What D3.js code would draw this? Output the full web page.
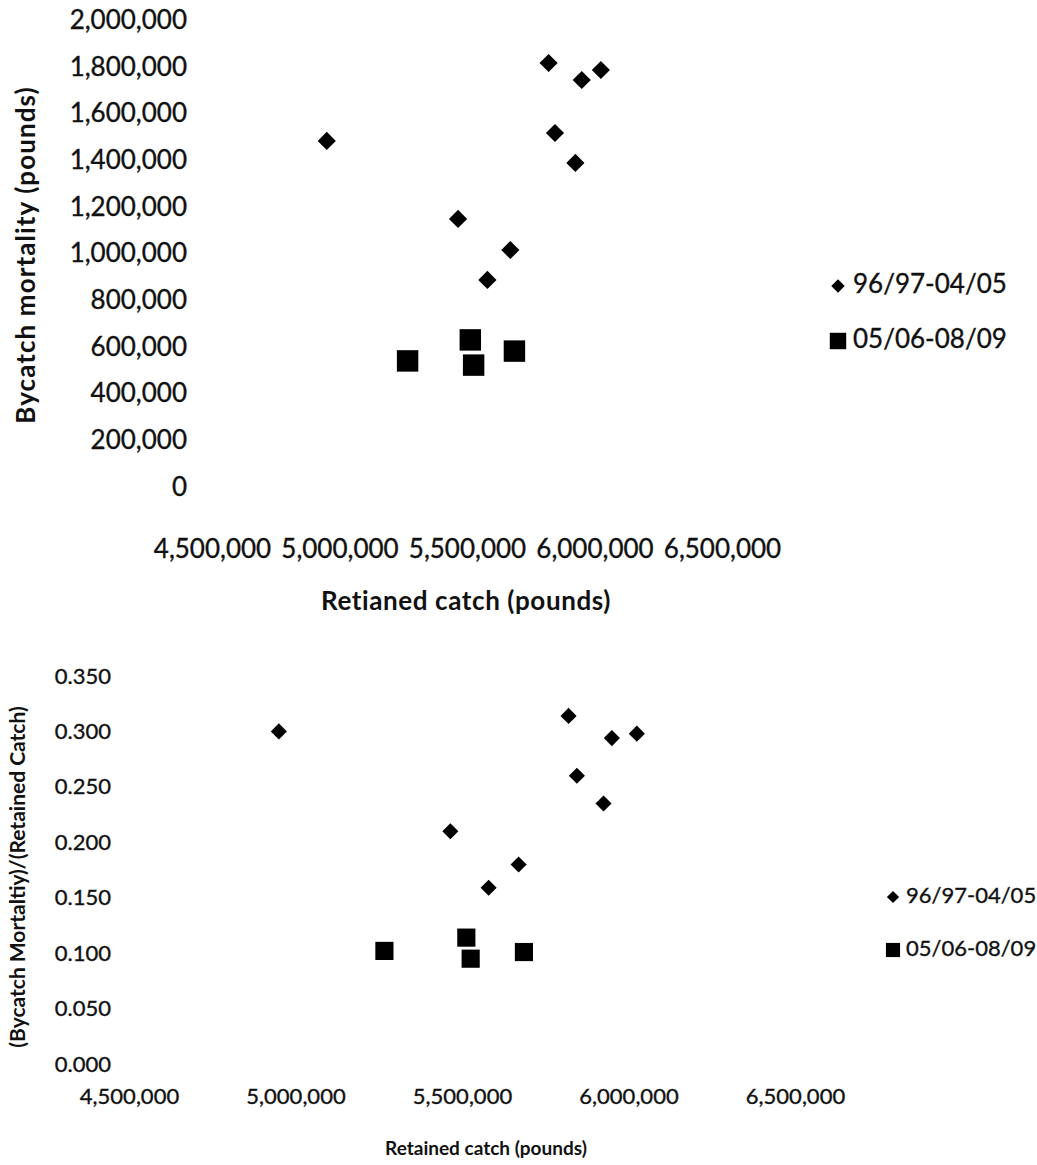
<!DOCTYPE html>
<html>
<head>
<meta charset="utf-8">
<script src="https://cdn.jsdelivr.net/npm/d3@7"></script>
<style>
  html, body { margin: 0; padding: 0; background: #fff; }
  svg { display: block; }
  text { font-family: Lato, "Open Sans", sans-serif; fill: #111; }
</style>
</head>
<body>
<svg id="fig" width="1037" height="1165"></svg>
<script>
// Seasons grouped into two periods
const periodNames = ["96/97-04/05", "05/06-08/09"];

// 96/97-04/05 seasons
const retainedEarly  = [4950000, 5465000, 5580000, 5670000, 5820000, 5845000, 5925000, 5950000, 6025000];
const mortalityEarly = [1482000, 1148000, 887000, 1015000, 1816000, 1516000, 1388000, 1743000, 1786000];
const rateEarly      = [0.300, 0.210, 0.159, 0.180, 0.314, 0.260, 0.235, 0.294, 0.298];

// 05/06-08/09 seasons
const retainedLate  = [5267000, 5513000, 5526000, 5686000];
const mortalityLate = [540000, 630000, 522000, 582000];
const rateLate      = [0.102, 0.114, 0.095, 0.101];

// Axis ticks
const retainedTicks  = [4500000, 5000000, 5500000, 6000000, 6500000];
const mortalityTicks = [0, 200000, 400000, 600000, 800000, 1000000, 1200000, 1400000, 1600000, 1800000, 2000000];
const rateTicks      = [0, 0.05, 0.10, 0.15, 0.20, 0.25, 0.30, 0.35];

const svg = d3.select("#fig");

// marker path generator: squares; diamonds are the same square turned 45 degrees
function squarePath(area) { return d3.symbol().type(d3.symbolSquare).size(area)(); }

function styleTicks(sel, size) {
  sel.selectAll("text")
    .style("font-size", size + "px")
    .style("font-family", "Lato, sans-serif")
    .attr("fill", "#111")
    .attr("stroke", "#111").attr("stroke-width", 0.35);
}

function drawPanel(cfg) {
  const g = svg.append("g");
  const x = d3.scaleLinear().domain([4500000, 6500000]).range(cfg.xRange);
  const y = d3.scaleLinear().domain(cfg.yDomain).range(cfg.yRange);

  // y axis (labels only, no line)
  const ya = g.append("g")
    .attr("transform", `translate(${cfg.xRange[0]},0)`)
    .call(d3.axisLeft(y).tickValues(cfg.yTicks).tickFormat(cfg.yFormat)
      .tickSize(0).tickPadding(cfg.yPad));
  ya.select(".domain").remove();
  styleTicks(ya, cfg.tickFont);

  // x axis (labels only, no line)
  const xa = g.append("g")
    .attr("transform", `translate(0,${cfg.yRange[0]})`)
    .call(d3.axisBottom(x).tickValues(retainedTicks).tickFormat(d3.format(","))
      .tickSize(0).tickPadding(cfg.xPad));
  xa.select(".domain").remove();
  styleTicks(xa, cfg.tickFont);

  // earlier period: diamonds
  g.append("g").selectAll("path")
    .data(d3.zip(retainedEarly, cfg.early))
    .join("path")
    .attr("d", squarePath(cfg.diamondArea))
    .attr("transform", d => `translate(${x(d[0])},${y(d[1])}) rotate(45)`)
    .attr("fill", "#000");

  // later period: squares
  g.append("g").selectAll("path")
    .data(d3.zip(retainedLate, cfg.late))
    .join("path")
    .attr("d", squarePath(cfg.squareArea))
    .attr("transform", d => `translate(${x(d[0])},${y(d[1])})`)
    .attr("fill", "#000");

  // axis titles
  g.append("text")
    .attr("transform", `translate(${cfg.yTitlePos[0]},${cfg.yTitlePos[1]}) rotate(-90)`)
    .attr("text-anchor", "middle").attr("dominant-baseline", "middle")
    .style("font-size", cfg.yTitleFont + "px").style("font-weight", 700)
    .style("letter-spacing", cfg.yTitleSpacing + "px")
    .text(cfg.yTitle);
  g.append("text")
    .attr("x", cfg.xTitlePos[0]).attr("y", cfg.xTitlePos[1])
    .attr("text-anchor", "middle").attr("dominant-baseline", "middle")
    .style("font-size", cfg.xTitleFont + "px").style("font-weight", 700)
    .style("letter-spacing", cfg.xTitleSpacing + "px")
    .text(cfg.xTitle);

  // legend
  const lg = g.append("g");
  periodNames.forEach((name, i) => {
    const ly = cfg.legendY[i];
    lg.append("path")
      .attr("d", squarePath(i === 0 ? cfg.legendDiamond : cfg.legendSquare))
      .attr("transform", `translate(${cfg.legendX},${ly})` + (i === 0 ? " rotate(45)" : ""))
      .attr("fill", "#000");
    lg.append("text")
      .attr("x", cfg.legendX + cfg.legendGap).attr("y", ly)
      .attr("dominant-baseline", "middle")
      .style("font-size", cfg.legendFont + "px")
      .attr("stroke", "#111").attr("stroke-width", 0.35)
      .text(name);
  });
}

// Panel 1: bycatch mortality against retained catch
drawPanel({
  xRange: [212, 722], yDomain: [0, 2000000], yRange: [487, 20],
  yTicks: mortalityTicks, yFormat: d3.format(","), yPad: 25, xPad: 53,
  tickFont: 26,
  early: mortalityEarly, late: mortalityLate,
  diamondArea: 165, squareArea: 460,
  yTitle: "Bycatch mortality (pounds)", yTitlePos: [28, 255], yTitleFont: 26, yTitleSpacing: 1.1,
  xTitle: "Retianed catch (pounds)", xTitlePos: [466, 603], xTitleFont: 26, xTitleSpacing: 0.6,
  legendX: 838, legendY: [286, 341], legendGap: 15, legendFont: 26,
  legendDiamond: 90, legendSquare: 270
});

// Panel 2: bycatch rate against retained catch
drawPanel({
  xRange: [129, 795], yDomain: [0, 0.35], yRange: [1064, 676],
  yTicks: rateTicks, yFormat: d3.format(".3f"), yPad: 18, xPad: 24,
  tickFont: 22,
  early: rateEarly, late: rateLate,
  diamondArea: 130, squareArea: 330,
  yTitle: "(Bycatch Mortaltiy)/(Retained Catch)", yTitlePos: [20, 877], yTitleFont: 21, yTitleSpacing: 0,
  xTitle: "Retained catch (pounds)", xTitlePos: [486, 1150], xTitleFont: 19, xTitleSpacing: 0,
  legendX: 893, legendY: [897, 950], legendGap: 13, legendFont: 22,
  legendDiamond: 75, legendSquare: 200
});
</script>
</body>
</html>
